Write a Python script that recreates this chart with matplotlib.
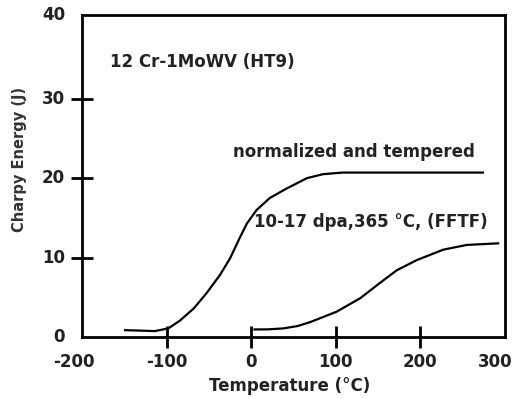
import matplotlib
matplotlib.use("Agg")
import matplotlib.pyplot as plt

# normalized and tempered (unirradiated)
temp_nt = [-149, -130, -114, -98, -84, -68, -53, -37, -25, -13, -5, 6.5, 22, 42, 66, 85, 108, 150, 200, 274]
energy_nt = [0.88, 0.82, 0.76, 1.1, 2.1, 3.6, 5.5, 7.8, 9.9, 12.6, 14.3, 16.0, 17.5, 18.7, 20.0, 20.5, 20.7, 20.7, 20.7, 20.7]

# irradiated 10-17 dpa, 365 C, FFTF
temp_irr = [4, 20, 38, 55, 70, 101, 129, 152, 172, 196, 227, 255, 292]
energy_irr = [0.97, 0.98, 1.1, 1.4, 1.9, 3.2, 4.9, 6.8, 8.4, 9.7, 11.0, 11.6, 11.8]

xticks = [-100, 0, 100, 200]
yticks = [10, 20, 30]
xlabels = ['-200', '-100', '0', '100', '200', '300']
ylabels = ['0', '10', '20', '30', '40']

fig = plt.figure(figsize=(5.24, 3.99), dpi=100)
ax = fig.add_axes([0.1565, 0.155, 0.807, 0.807])

ax.plot(temp_nt, energy_nt, color='black', lw=1.6)
ax.plot(temp_irr, energy_irr, color='black', lw=1.6)

ax.set_xlim(-200, 300)
ax.set_ylim(0, 40.5)
for s in ax.spines.values():
    s.set_linewidth(2)

ax.set_xticks(xticks)
ax.set_yticks(yticks)
ax.set_xticklabels([])
ax.set_yticklabels([])
ax.tick_params(direction='inout', length=16, width=2)

lab = dict(fontsize=12, fontweight='bold', color='#222222')
# x tick labels (end labels nudged like the original)
xpos = [-210, -100, 0, 100, 200, 289]
for p, t in zip(xpos, xlabels):
    ax.text(p, -2.0, t, ha='center', va='top', **lab)
for i, t in enumerate(ylabels):
    ax.text(-0.04, i * 10 / 40.5 if i < 4 else 1.0, t, ha='right', va='center',
            transform=ax.transAxes, **lab)

ax.set_xlabel('Temperature (°C)', fontsize=12, fontweight='bold', color='#222222')
ax.xaxis.set_label_coords(0.49, -0.123)
ax.set_ylabel('Charpy Energy (J)', fontsize=10.5, fontweight='bold', color='#333333')
ax.yaxis.set_label_coords(-0.13, 0.553)

ax.text(-167, 34.6, '12 Cr-1MoWV (HT9)', ha='left', va='center', **lab)
ax.text(-21.5, 23.3, 'normalized and tempered', ha='left', va='center', **lab)
ax.text(3, 14.5, '10-17 dpa,365 °C, (FFTF)', ha='left', va='center', **lab)

plt.savefig('out.png', dpi=100)
